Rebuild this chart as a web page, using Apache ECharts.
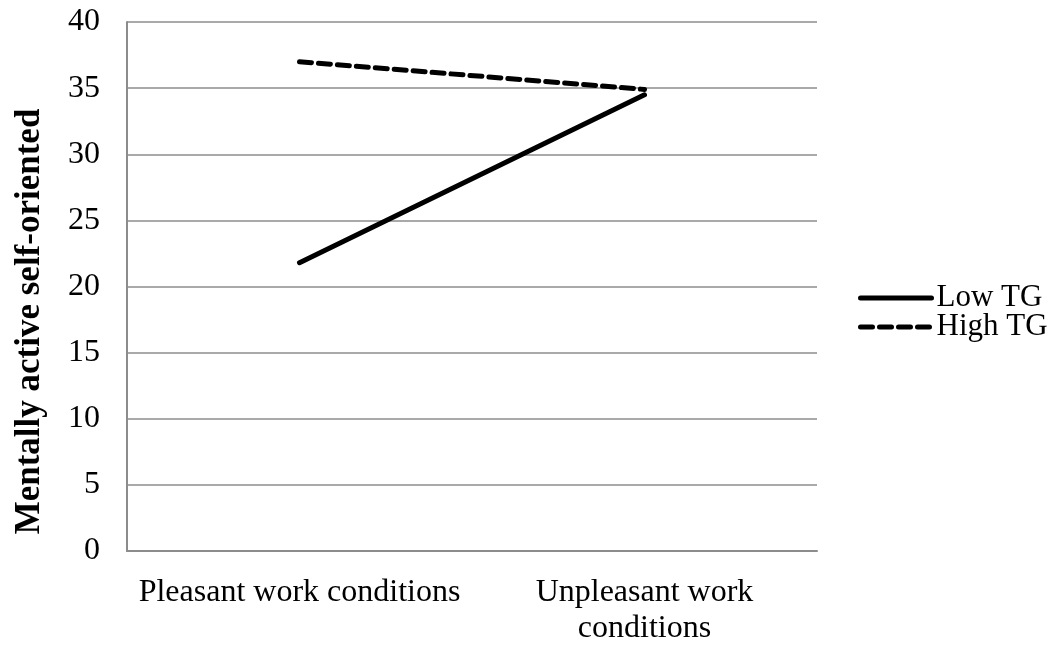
<!DOCTYPE html>
<html>
<head>
<meta charset="utf-8">
<script src="https://cdn.jsdelivr.net/npm/echarts@6/dist/echarts.min.js"></script>
<style>html,body{margin:0;padding:0;background:#fff;}#c{width:1058px;height:647px;}</style>
</head>
<body>
<div id="c"></div>
<script>
const categories = ['Pleasant work conditions', 'Unpleasant work\nconditions'];
const lowTG = [21.8, 34.5];
const highTG = [37.0, 34.9];
const seriesNames = ['Low TG', 'High TG'];
const yAxisTitle = 'Mentally active self-oriented';
const FONT = '"Liberation Serif", "Times New Roman", serif';

const chart = echarts.init(document.getElementById('c'), null, {renderer: 'canvas'});
chart.setOption({
  animation: false,
  backgroundColor: '#fff',
  grid: {left: 127, right: 241, top: 22, bottom: 95, containLabel: false},
  legend: {
    orient: 'vertical', left: 858, top: 282, itemWidth: 71, itemHeight: 14, itemGap: -3,
    padding: 0,
    itemStyle: {opacity: 0},
    lineStyle: {width: 5},
    textStyle: {fontFamily: FONT, fontSize: 31, color: '#000', lineHeight: 32, padding: [0,0,0,0]},
    data: seriesNames
  },
  xAxis: {
    type: 'category', data: categories, boundaryGap: true,
    axisLine: {lineStyle: {color: '#8c8c8c', width: 2}},
    axisTick: {show: false},
    axisLabel: {fontFamily: FONT, fontSize: 32, color: '#000', margin: 24, lineHeight: 36, interval: 0}
  },
  yAxis: {
    type: 'value', min: 0, max: 40, interval: 5,
    name: yAxisTitle, nameLocation: 'middle', nameRotate: 90, nameGap: 80,
    nameTextStyle: {fontFamily: FONT, fontSize: 35, fontWeight: 'bold', color: '#000', padding: [0, 70, 0, 0]},
    axisLine: {show: true, lineStyle: {color: '#8c8c8c', width: 2}},
    axisTick: {show: false},
    splitLine: {lineStyle: {color: '#8c8c8c', width: 1.5}},
    axisLabel: {fontFamily: FONT, fontSize: 32, color: '#000', margin: 27}
  },
  series: [
    {name: seriesNames[0], type: 'line', data: lowTG, symbol: 'none', showSymbol: false,
     lineStyle: {color: '#000', width: 5, cap: 'round'}, itemStyle: {color: '#000'}},
    {name: seriesNames[1], type: 'line', data: highTG, symbol: 'none', showSymbol: false,
     lineStyle: {color: '#000', width: 5, type: [12, 7], cap: 'round'}, itemStyle: {color: '#000'}}
  ]
});
</script>
</body>
</html>
